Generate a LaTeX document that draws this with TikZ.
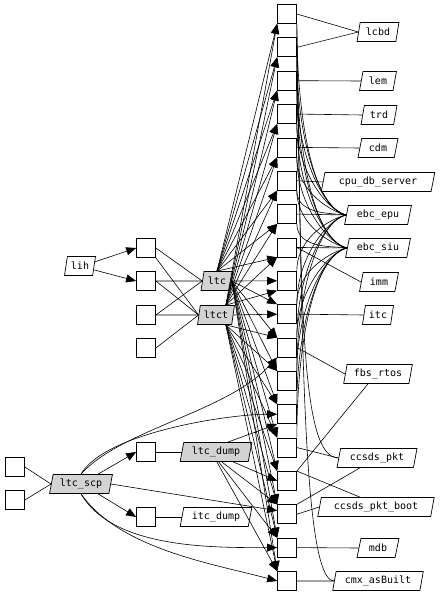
\documentclass[tikz,border=0pt]{standalone}
\usepackage{fontspec}
\newfontfamily\monof{DejaVu Sans Mono}
\usetikzlibrary{shapes.geometric,arrows.meta,calc}
\definecolor{gfill}{RGB}{211,211,211}
\begin{document}
\begin{tikzpicture}[x=1pt,y=-1pt,
  sq/.style={draw, line width=0.7pt, minimum size=19pt, inner sep=0pt},
  para/.style={draw, line width=0.7pt, trapezium, trapezium left angle=75, trapezium right angle=105, trapezium stretches=true, minimum height=19pt, inner sep=0pt, font=\monof\fontsize{10}{11}\selectfont},
  gpara/.style={para, fill=gfill},
  ln/.style={line width=0.6pt},
  ar/.style={line width=0.6pt, -{Triangle[length=10pt,width=8pt]}},
  upb/.style={ln, out=168, in=-90, out looseness=0.45, in looseness=1.2},
  dnb/.style={ln, out=192, in=90, out looseness=0.45, in looseness=1.2},
]
\useasboundingbox[fill=white] (0,0) rectangle (440,596);
% column of squares
\foreach \i in {0,...,17} \node[sq] (c\i) at (287,{14+33.35*\i}) {};
% right labels
\node[para, minimum width=42pt] (lcbd) at (378,32) {lcbd};
\node[para, minimum width=37pt] (lem) at (378,81) {lem};
\node[para, minimum width=36pt] (trd) at (379,115) {trd};
\node[para, minimum width=40pt] (cdm) at (378,148) {cdm};
\node[para, minimum width=114pt] (cpu) at (378,182) {cpu\_db\_server};
\node[para, minimum width=67pt] (epu) at (378,215) {ebc\_epu};
\node[para, minimum width=65pt] (siu) at (378,248) {ebc\_siu};
\node[para, minimum width=39pt] (imm) at (379,282) {imm};
\node[para, minimum width=31pt] (itc) at (378,315) {itc};
\node[para, minimum width=69pt] (fbs) at (378,374) {fbs\_rtos};
\node[para, minimum width=80pt] (pkt) at (377,458) {ccsds\_pkt};
\node[para, minimum width=117pt] (boot) at (376,507) {ccsds\_pkt\_boot};
\node[para, minimum width=42pt] (mdb) at (378,548) {mdb};
\node[para, minimum width=91pt] (cmx) at (378,581) {cmx\_asBuilt};
% left part
\node[para, minimum width=31pt] (lih) at (80,266) {lih};
\node[sq] (s1) at (146,248) {};
\node[sq] (s2) at (146,281) {};
\node[sq] (s3) at (146,315) {};
\node[sq] (s4) at (146,348) {};
\node[gpara, minimum width=32pt] (ltc) at (217,281) {ltc};
\node[gpara, minimum width=37pt] (ltct) at (216,315) {ltct};
\node[sq] (ls1) at (15,467) {};
\node[sq] (ls2) at (15,500) {};
\node[gpara, minimum width=63pt] (scp) at (81,484) {ltc\_scp};
\node[sq] (s5) at (146,452) {};
\node[sq] (s6) at (146,517) {};
\node[gpara, minimum width=72pt] (dump) at (216,452) {ltc\_dump};
\node[para, minimum width=72pt] (idump) at (216,517) {itc\_dump};

% right connections
\draw[ln] (c0.east) -- (lcbd.west);
\draw[ln] (c1.east) -- (lcbd.west);
\draw[ln] (c2.east) -- (lem.west);
\draw[ln] (c3.east) -- (trd.west);
\draw[ln] (c4.east) -- (cdm.west);
\draw[ln] (c5.east) -- (cpu.west);
\draw[ln] (c6.east) -- (epu.west);
\draw[ln] (c7.east) -- (siu.west);
\draw[ln] (c7.east) -- (imm.west);
\draw[ln] (c9.east) -- (itc.west);
\draw[ln] (c10.east) -- (fbs.west);
\draw[ln] ($(fbs.south)+(-10,0)$) -- (c14.north east);
\draw[ln] (c13.east) -- (pkt.west);
\draw[ln] ($(pkt.south)+(-17,0)$) -- (c15.north east);
\draw[ln] (c15.east) -- (boot.west);
\draw[ln] (c14.north east) -- ($(boot.north)+(-16,0)$);
\draw[ln] (c16.east) -- (mdb.west);
\draw[ln] (c17.east) -- (cmx.west);
\draw[ln] (cmx.west) .. controls +(-32,0) and +(5,300) .. (c0.south east);
\draw[ln] (pkt.west) .. controls +(-38,0) and +(5,250) .. (c1.south east);
% ebc bundles
\foreach \i in {0,...,5} \draw[upb] (epu.west) to (c\i.south east);
\foreach \i in {8,...,11} \draw[dnb] (epu.west) to (c\i.north east);
\foreach \i in {1,...,6} \draw[upb] (siu.west) to (c\i.south east);
\foreach \i in {9,...,13} \draw[dnb] (siu.west) to (c\i.north east);

% left connections
\draw[ar] ($(lih.east)+(0,-4)$) -- (s1.west);
\draw[ar] ($(lih.east)+(0,4)$) -- (s2.west);
\draw[ln] (s1.east) -- (ltc.west);
\draw[ln] (s1.south east) -- (ltct.west);
\draw[ln] (s2.east) -- (ltc.west);
\draw[ln] (s2.east) -- (ltct.west);
\draw[ln] (s3.east) -- (ltc.west);
\draw[ln] (s3.east) -- (ltct.west);
\draw[ln] (s4.east) -- (ltct.west);
% ltc / ltct fans
\foreach \i in {0,...,7} \draw[ar] (ltc.north) -- (c\i.south west);
\draw[ar] (ltc.east) -- (c8.west);
\foreach \i in {9,...,17} \draw[ar] (ltc.east) -- (c\i.north west);
\foreach \i in {0,...,8} \draw[ar] (ltct.north east) -- (c\i.south west);
\draw[ar] (ltct.east) -- (c9.west);
\foreach \i in {10,...,17} \draw[ar] (ltct.south east) -- (c\i.north west);
% ltc_scp group
\draw[ln] (ls1.east) -- (scp.west);
\draw[ln] (ls2.east) -- (scp.west);
\draw[ar] (scp.30) -- (s5.west);
\draw[ar] (scp.-30) -- (s6.west);
\draw[ln] (s5.east) -- (dump.west);
\draw[ln] (s6.east) -- (idump.west);
\draw[ar] (scp.north) to[out=60,in=180,looseness=0.6] (c12.west);
\draw[ar] (scp.north) .. controls +(40,-45) and +(-50,55) .. (c10.south west);
\draw[ar] (scp.east) -- (c15.160);
\draw[ar] (scp.south) to[out=-60,in=180,looseness=0.8] (c16.west);
\draw[ar] (scp.south) to[out=-55,in=165,looseness=0.8] (c17.west);
% ltc_dump
\draw[ar] (dump.40) -- (c12.south west);
\draw[ar] (dump.-30) -- (c14.west);
\draw[ar] (dump.-60) -- (c15.north west);
\draw[ar] (dump.-75) -- (c16.north west);
\draw[ar] (dump.-85) -- (c17.north west);
\end{tikzpicture}
\end{document}
